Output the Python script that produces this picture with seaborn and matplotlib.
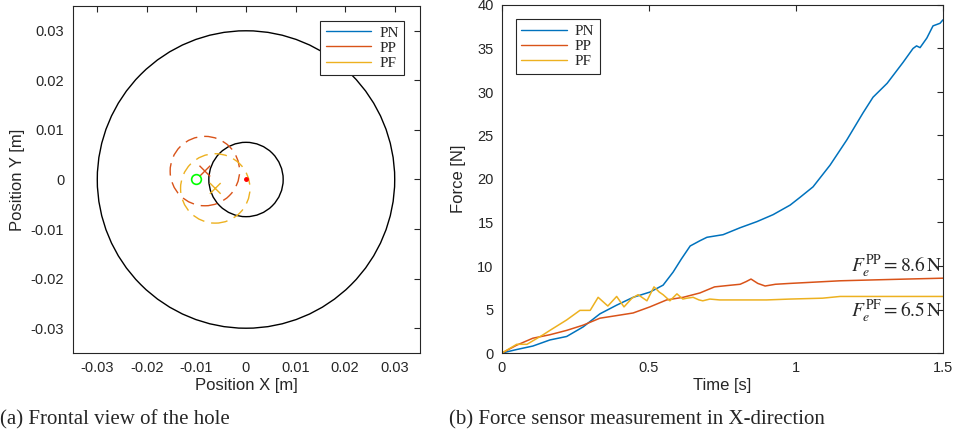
import numpy as np
import pandas as pd
import matplotlib
matplotlib.use("Agg")
import matplotlib.pyplot as plt
from matplotlib.patches import Circle
from matplotlib.lines import Line2D
import seaborn as sns

# ---------------- data ----------------
series_names = ["PN", "PP", "PF"]
series_colors = ["#0072BD", "#D95319", "#EDB120"]

# hole geometry (m)
outer_hole_radius = 0.03
inner_hole_radius = 0.0075
hole_center = (0.0, 0.0)
start_point = (-0.01, 0.0)
# estimated contact circles (center x, center y, radius)
pp_circle = (-0.0083, 0.0017, 0.007)
pf_circle = (-0.0062, -0.0018, 0.007)

# force measurements in X-direction
t_pn = [0, 0.05, 0.105, 0.163, 0.22, 0.276, 0.333, 0.39, 0.446, 0.503, 0.548,
        0.582, 0.61, 0.64, 0.673, 0.697, 0.752, 0.81, 0.867, 0.922, 0.98, 1.014,
        1.058, 1.116, 1.173, 1.228, 1.262, 1.31, 1.364, 1.398, 1.41, 1.422,
        1.445, 1.466, 1.49, 1.5]
f_pn = [0, 0.4, 0.8, 1.5, 1.9, 3.0, 4.5, 5.5, 6.4, 7.0, 7.8,
        9.3, 10.8, 12.3, 12.9, 13.3, 13.6, 14.4, 15.1, 15.9, 17.0, 17.9,
        19.1, 21.6, 24.5, 27.6, 29.4, 31.0, 33.4, 35.0, 35.3, 35.1,
        36.2, 37.6, 37.9, 38.3]

t_pp = [0, 0.05, 0.105, 0.163, 0.22, 0.276, 0.333, 0.39, 0.446, 0.503, 0.56,
        0.616, 0.673, 0.723, 0.78, 0.81, 0.83, 0.847, 0.87, 0.895, 0.93, 0.98,
        1.037, 1.15, 1.262, 1.378, 1.5]
f_pp = [0, 0.9, 1.7, 2.1, 2.6, 3.2, 4.0, 4.3, 4.6, 5.3, 6.1,
        6.4, 6.9, 7.6, 7.8, 7.9, 8.2, 8.5, 8.0, 7.7, 7.9, 8.0,
        8.1, 8.3, 8.4, 8.5, 8.6]

t_pf = [0, 0.05, 0.085, 0.1, 0.14, 0.163, 0.22, 0.265, 0.3, 0.327, 0.36, 0.39,
        0.415, 0.442, 0.463, 0.493, 0.517, 0.535, 0.548, 0.571, 0.595, 0.615,
        0.629, 0.65, 0.67, 0.683, 0.707, 0.74, 0.8, 0.9, 0.98, 1.09, 1.15,
        1.3, 1.5]
f_pf = [0, 1.0, 1.0, 1.3, 2.1, 2.6, 3.8, 4.9, 4.9, 6.4, 5.4, 6.5,
        5.3, 6.3, 6.7, 6.0, 7.6, 7.0, 6.7, 6.0, 6.8, 6.2,
        6.3, 6.4, 6.1, 6.0, 6.2, 6.1, 6.1, 6.1, 6.2, 6.3, 6.5,
        6.5, 6.5]

final_pp = 8.6
final_pf = 6.5

pos_ticks = [-0.03, -0.02, -0.01, 0, 0.01, 0.02, 0.03]
pos_ticklabels = ["-0.03", "-0.02", "-0.01", "0", "0.01", "0.02", "0.03"]
time_ticks = [0, 0.5, 1, 1.5]
time_ticklabels = ["0", "0.5", "1", "1.5"]
force_ticks = [0, 5, 10, 15, 20, 25, 30, 35, 40]

# ---------------- style ----------------
sns.set_theme(style="white")
plt.rcParams["font.family"] = ["Liberation Sans", "DejaVu Sans"]
plt.rcParams["mathtext.fontset"] = "stix"
axis_col = "#262626"
plt.rcParams.update({
    "axes.edgecolor": axis_col,
    "axes.linewidth": 0.8,
    "xtick.color": axis_col,
    "ytick.color": axis_col,
    "xtick.direction": "in",
    "ytick.direction": "in",
    "xtick.top": True,
    "ytick.right": True,
    "xtick.major.size": 4,
    "ytick.major.size": 4,
    "xtick.major.width": 0.8,
    "ytick.major.width": 0.8,
})

fig = plt.figure(figsize=(9.56, 4.36), dpi=100)
ax1 = fig.add_axes([72 / 956, 83 / 436, 348 / 956, 347 / 436])
ax2 = fig.add_axes([502 / 956, 83 / 436, 441 / 956, 348 / 436])

serif = ["Liberation Serif", "DejaVu Serif"]

# ---------------- (a) frontal view ----------------
ax1.add_patch(Circle(hole_center, outer_hole_radius, fill=False, ec="black", lw=1.0))
ax1.add_patch(Circle(hole_center, inner_hole_radius, fill=False, ec="black", lw=1.0))
for (cx, cy, r), col in [(pp_circle, series_colors[1]), (pf_circle, series_colors[2])]:
    ax1.add_patch(Circle((cx, cy), r, fill=False, ec=col, lw=1.0,
                         ls=(0, (9, 5))))

centers = pd.DataFrame({
    "x": [pp_circle[0], pf_circle[0]],
    "y": [pp_circle[1], pf_circle[1]],
    "series": ["PP", "PF"],
})
sns.scatterplot(data=centers, x="x", y="y", hue="series",
                palette={"PP": series_colors[1], "PF": series_colors[2]},
                marker="x", s=60, linewidth=1.0, legend=False, ax=ax1)
ax1.plot(*hole_center, marker="o", ms=2.5, color="red", mec="red")
ax1.plot(*start_point, marker="o", ms=7, mfc="none", mec="#00FF00", mew=1.2)

ax1.set_xlim(-0.035, 0.035)
ax1.set_ylim(-0.035, 0.035)
ax1.set_aspect("equal", adjustable="box")
ax1.set_xticks(pos_ticks)
ax1.set_xticklabels(pos_ticklabels)
ax1.set_yticks(pos_ticks)
ax1.set_yticklabels(pos_ticklabels)
ax1.tick_params(labelsize=10.5, pad=6)
ax1.set_xlabel("Position X [m]", fontsize=12, labelpad=2)
ax1.set_ylabel("Position Y [m]", fontsize=12, labelpad=4)

handles = [Line2D([], [], color=c, lw=1.0) for c in series_colors]
legend_kw = dict(prop={"family": serif, "size": 11}, frameon=True, fancybox=False,
                 framealpha=1, edgecolor=axis_col, handlelength=3.0,
                 borderpad=0.35, labelspacing=0.1, handletextpad=0.5,
                 borderaxespad=0)
leg1 = ax1.legend(handles, series_names, loc="upper right",
                  bbox_to_anchor=(0.955, 0.958), **legend_kw)
leg1.get_frame().set_linewidth(0.8)

# ---------------- (b) force ----------------
df = pd.concat([
    pd.DataFrame({"time": t_pn, "force": f_pn, "series": "PN"}),
    pd.DataFrame({"time": t_pp, "force": f_pp, "series": "PP"}),
    pd.DataFrame({"time": t_pf, "force": f_pf, "series": "PF"}),
], ignore_index=True)
sns.lineplot(data=df, x="time", y="force", hue="series", hue_order=series_names,
             palette=dict(zip(series_names, series_colors)), estimator=None,
             linewidth=1.1, ax=ax2)

ax2.set_xlim(0, 1.5)
ax2.set_ylim(0, 40)
ax2.set_xticks(time_ticks)
ax2.set_xticklabels(time_ticklabels)
ax2.set_yticks(force_ticks)
ax2.tick_params(labelsize=10.5, pad=6)
ax2.set_xlabel("Time [s]", fontsize=12, labelpad=2)
ax2.set_ylabel("Force [N]", fontsize=12, labelpad=8)

ax2.text(1.5, final_pp + 1.4, r"$F_e^{\mathrm{PP}} = %.1f\,\mathrm{N}$" % final_pp,
         ha="right", va="center", fontsize=14)
ax2.text(1.5, final_pf - 1.7, r"$F_e^{\mathrm{PF}} = %.1f\,\mathrm{N}$" % final_pf,
         ha="right", va="center", fontsize=14)

leg2 = ax2.legend(handles, series_names, loc="upper left",
                  bbox_to_anchor=(0.032, 0.96), **legend_kw)
leg2.get_frame().set_linewidth(0.8)

# ---------------- captions ----------------
fig.text(0.0, 0.038, "(a) Frontal view of the hole", family=serif, fontsize=15,
         va="center", ha="left")
fig.text(449 / 956, 0.038, "(b) Force sensor measurement in X-direction",
         family=serif, fontsize=15, va="center", ha="left")

fig.savefig("out.png", dpi=100)
